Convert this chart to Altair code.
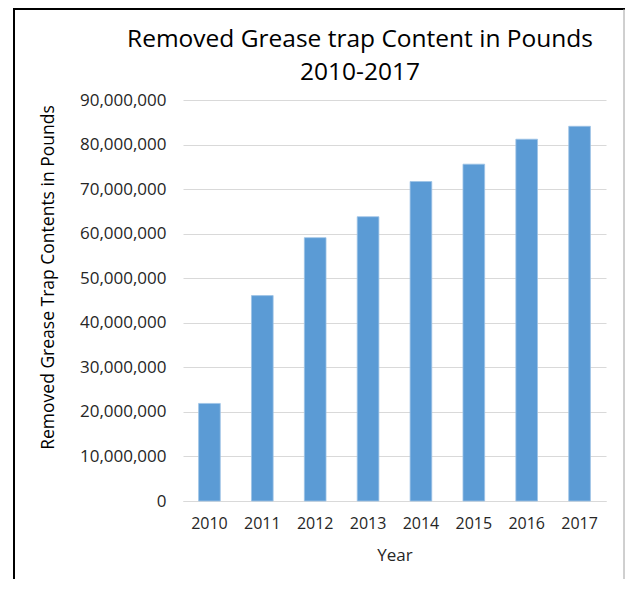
import altair as alt
import pandas as pd

years = ["2010", "2011", "2012", "2013", "2014", "2015", "2016", "2017"]
pounds = [21900000, 46100000, 59100000, 63800000, 71700000, 75600000, 81200000, 84100000]
y_ticks = [0, 10000000, 20000000, 30000000, 40000000, 50000000, 60000000, 70000000, 80000000, 90000000]
title_lines = ["Removed Grease trap Content in Pounds", "2010-2017"]

df = pd.DataFrame({"Year": years, "Pounds": pounds})
FONT = "Open Sans"

bars = alt.Chart(df).mark_bar(
    color="#5B9BD5", stroke="#9DC3E6", strokeWidth=0.8
).encode(
    x=alt.X("Year:N", title="Year",
            scale=alt.Scale(paddingInner=0.59, paddingOuter=0.295),
            axis=alt.Axis(labelAngle=0, labelFont=FONT, labelFontSize=16,
                          labelColor="#262626", labelPadding=14, ticks=False,
                          domainColor="#d9d9d9", titleFont=FONT, titleFontSize=17,
                          titleFontWeight="normal", titleColor="#262626", titlePadding=16)),
    y=alt.Y("Pounds:Q", title="Removed Grease Trap Contents in Pounds",
            scale=alt.Scale(domain=[0, 90000000], nice=False),
            axis=alt.Axis(values=y_ticks, format=",d", labelFont=FONT, labelFontSize=17,
                          labelColor="#262626", labelPadding=17, ticks=False, domain=False,
                          gridColor="#d9d9d9", titleFont=FONT, titleFontSize=17.5,
                          titleFontWeight="normal", titleColor="#000000",
                          titleX=-135, titleY=177, titleAngle=270,
                          titleAlign="center", titleBaseline="middle")),
)

one = pd.DataFrame({"k": [0]})
title1 = alt.Chart(one).mark_text(
    text=title_lines[0], font=FONT, fontSize=24.5, color="#000000",
    align="center", baseline="middle"
).encode(x=alt.value(177), y=alt.value(-60))
title2 = alt.Chart(one).mark_text(
    text=title_lines[1], font=FONT, fontSize=24.5, color="#000000",
    align="center", baseline="middle"
).encode(x=alt.value(177), y=alt.value(-27))

left = alt.Chart(one).mark_rule(color="#000000", strokeWidth=2).encode(
    x=alt.value(-169), y=alt.value(-92), y2=alt.value(600))
top = alt.Chart(one).mark_rule(color="#000000", strokeWidth=2).encode(
    x=alt.value(-170), x2=alt.value(442), y=alt.value(-91))
right = alt.Chart(one).mark_rule(color="#a0a0a0", strokeWidth=1).encode(
    x=alt.value(441), y=alt.value(-91), y2=alt.value(600))

chart = alt.layer(bars, title1, title2, left, top, right).properties(
    width=423, height=401,
    background="white",
    autosize=alt.AutoSizeParams(type="none"),
    padding={"left": 175, "top": 92, "right": 19, "bottom": 78},
).configure_view(stroke=None)

chart.save("out.html", embed_options={"renderer": "svg", "actions": False})
